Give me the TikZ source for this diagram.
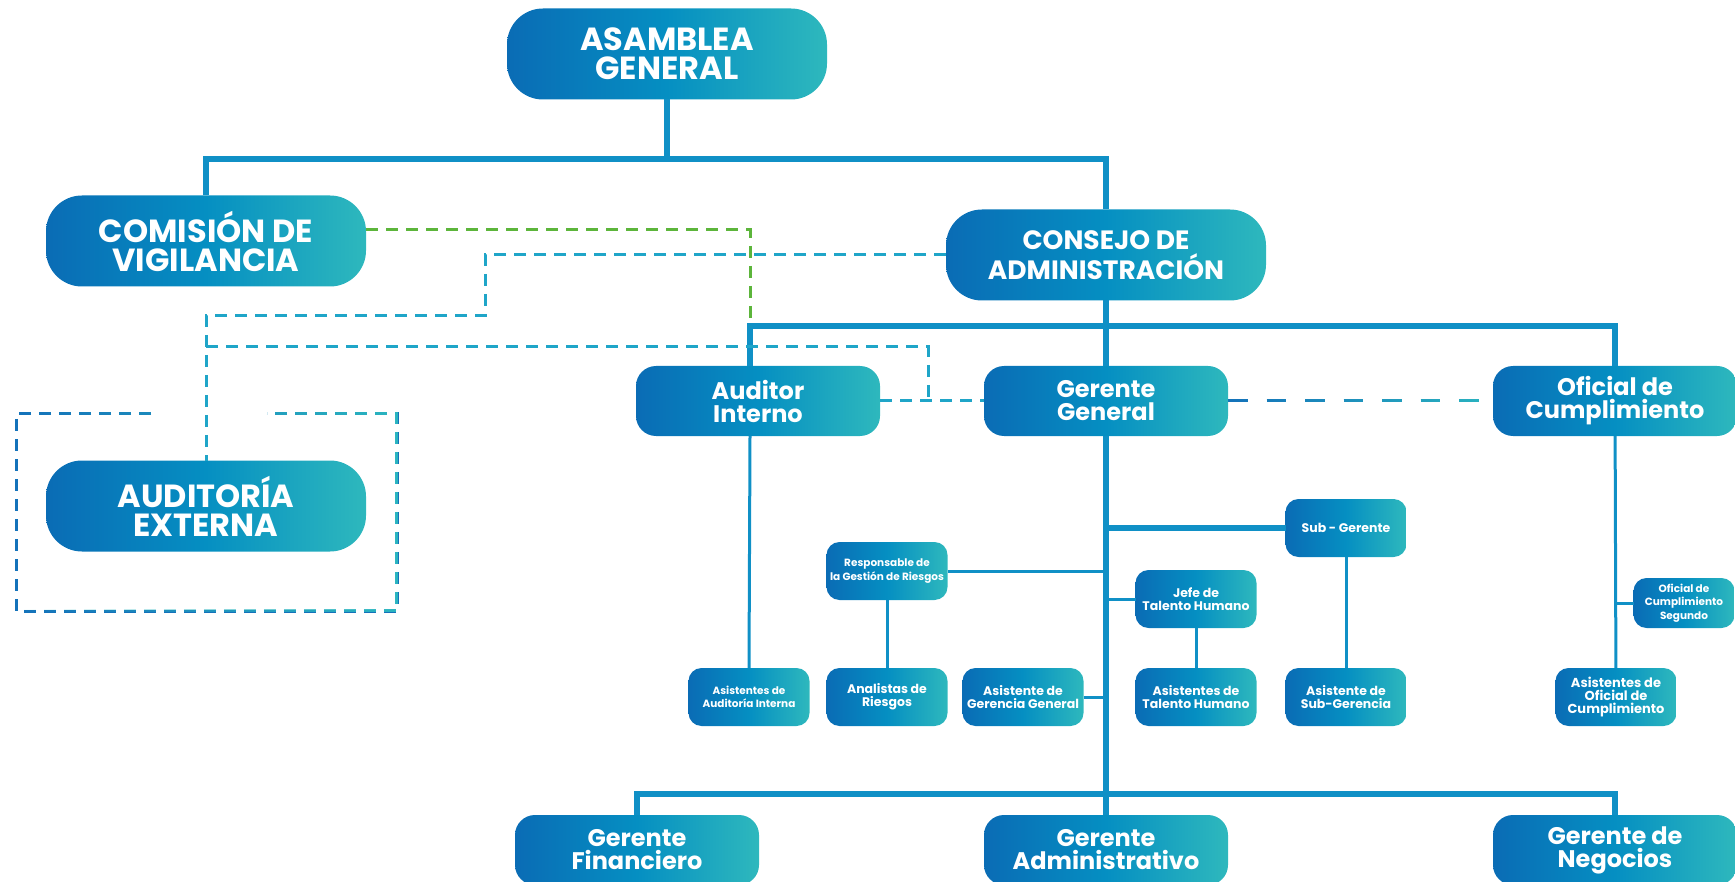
\documentclass[tikz,border=0pt]{standalone}
\usepackage{fontspec}
\setmainfont{Poppins}
\usepackage{tikz}
\usetikzlibrary{fadings}

\definecolor{boxl}{HTML}{0A6CB5}
\definecolor{boxm}{HTML}{058FC2}
\definecolor{boxr}{HTML}{2EB8BD}
\definecolor{linec}{HTML}{1090C6}
\definecolor{dashg}{HTML}{5CB53B}
\definecolor{dasht}{HTML}{1FA5C8}
\definecolor{dashb}{HTML}{1472BA}
\definecolor{dashr}{HTML}{2BB5C0}
\tikzfading[name=fadeleft, left color=transparent!100, right color=transparent!0]

\begin{document}
\begin{tikzpicture}[x=1pt,y=-1pt,
  cargo/.style={left color=boxl, right color=boxr, middle color=boxm,
                text=white, align=center, inner sep=0pt, outer sep=0pt},
  bigbox/.style={cargo, minimum width=320pt, minimum height=91pt, rounded corners=36pt,
                 font=\bfseries\fontsize{32}{29}\selectfont},
  midbox/.style={cargo, minimum width=244pt, minimum height=70pt, rounded corners=20pt,
                 font=\bfseries\fontsize{24}{23}\selectfont},
  smallbox/.style={cargo, minimum width=121pt, minimum height=58pt, rounded corners=13pt,
                   font=\bfseries\fontsize{12.5}{13.3}\selectfont},
  tinybox/.style={smallbox, font=\bfseries\fontsize{10.5}{13.3}\selectfont},
  trunk/.style={draw=linec, line width=6pt},
  twig/.style={draw=linec, line width=3pt},
  gdash/.style={draw=dashg, line width=3pt, dash pattern=on 12pt off 8pt},
  tdash/.style={draw=dasht, line width=3pt, dash pattern=on 12pt off 8pt}]

 \useasboundingbox (0,0) rectangle (1735,882);

 \coordinate (bA) at (667,159);
 \coordinate (bB) at (1106,326);
 \coordinate (bC) at (1106,794);
 \coordinate (aT) at (750,326);
 \coordinate (jE) at (206,347);
 \coordinate (jF) at (928,401);

 \draw[tdash, draw=dashb] (151,414) -- (16,414) -- (16,611) -- (397,611) -- (397,414) -- (267,414);
 \draw[tdash, draw=dashr, path fading=fadeleft] (151,414) -- (16,414) -- (16,611) -- (397,611) -- (397,414) -- (267,414);

 \node[bigbox] (asam) at (667,54) {ASAMBLEA\\GENERAL};
 \node[bigbox] (comi) at (206,241) {COMISIÓN DE\\VIGILANCIA};
 \node[bigbox, font=\bfseries\fontsize{26.5}{30}\selectfont] (cons) at (1106,255) {CONSEJO DE\\ADMINISTRACIÓN};
 \node[bigbox] (aext) at (206,506) {AUDITORÍA\\EXTERNA};

 \node[midbox] (audi) at (758,401) {Auditor\\Interno};
 \node[midbox] (gege) at (1106,401) {Gerente\\General};
 \node[midbox] (ofic) at (1615,401) {Oficial de\\Cumplimiento};

 \node[tinybox] (aaud) at (749,697) {Asistentes de\\Auditoría Interna};
 \node[tinybox] (resp) at (887,571) {Responsable de\\la Gestión de Riesgos};
 \node[smallbox] (anal) at (887,697) {Analistas de\\Riesgos};
 \node[smallbox] (agge) at (1023,697) {Asistente de\\Gerencia General};
 \node[smallbox] (subg) at (1346,528) {Sub - Gerente};
 \node[smallbox] (jefe) at (1196,599) {Jefe de\\Talento Humano};
 \node[smallbox] (atal) at (1196,697) {Asistentes de\\Talento Humano};
 \node[smallbox] (asub) at (1346,697) {Asistente de\\Sub-Gerencia};
 \node[tinybox, minimum width=101pt, minimum height=50pt] (oseg) at (1684,603) {Oficial de\\Cumplimiento\\Segundo};
 \node[smallbox, font=\bfseries\fontsize{13}{13.3}\selectfont] (aofi) at (1616,697) {Asistentes de\\Oficial de\\Cumplimiento};

 \node[midbox] (gfin) at (637,850) {Gerente\\Financiero};
 \node[midbox] (gadm) at (1106,850) {Gerente\\Administrativo};
 \node[midbox] (gneg) at (1615,850) {Gerente de\\Negocios};

 \draw[trunk] (asam) -- (bA);
 \draw[trunk] (comi.north) |- (bA) -| (cons.north);
 \draw[trunk] (cons) -- (gege);
 \draw[trunk] (aT |- audi.north) |- (bB) -| (ofic.north);
 \draw[trunk] (gege) -- (gadm);
 \draw[trunk] (gfin.north) |- (bC) -| (gneg.north);
 \draw[trunk] (subg.west) -- (subg.west -| gege.south);

 \draw[twig] (aT |- audi.south) -- (aaud.north);
 \draw[twig] (resp.east) -- (resp.east -| gege.south);
 \draw[twig] (resp) -- (anal);
 \draw[twig] (agge.east) -- (agge.east -| gege.south);
 \draw[twig] (jefe.west) -- (jefe.west -| gege.south);
 \draw[twig] (jefe) -- (atal);
 \draw[twig] (subg) -- (asub);
 \draw[twig] (ofic) -- (aofi);
 \draw[twig] (oseg.west) -- (oseg.west -| ofic.south);

 \draw[gdash] ([yshift=11pt]comi.east) -| (aT);
 \draw[tdash] (cons.west) -| (485,316) -| (aext.north);
 \draw[tdash] (jE) -| (jF);
 \draw[tdash] (audi.east) -- (gege.west);
 \draw[tdash, draw=dashb, dash pattern=on 19.5pt off 19pt] (gege.east) -- (ofic.west);
 \draw[tdash, draw=dashr, dash pattern=on 19.5pt off 19pt, path fading=fadeleft] (gege.east) -- (ofic.west);
\end{tikzpicture}
\end{document}
